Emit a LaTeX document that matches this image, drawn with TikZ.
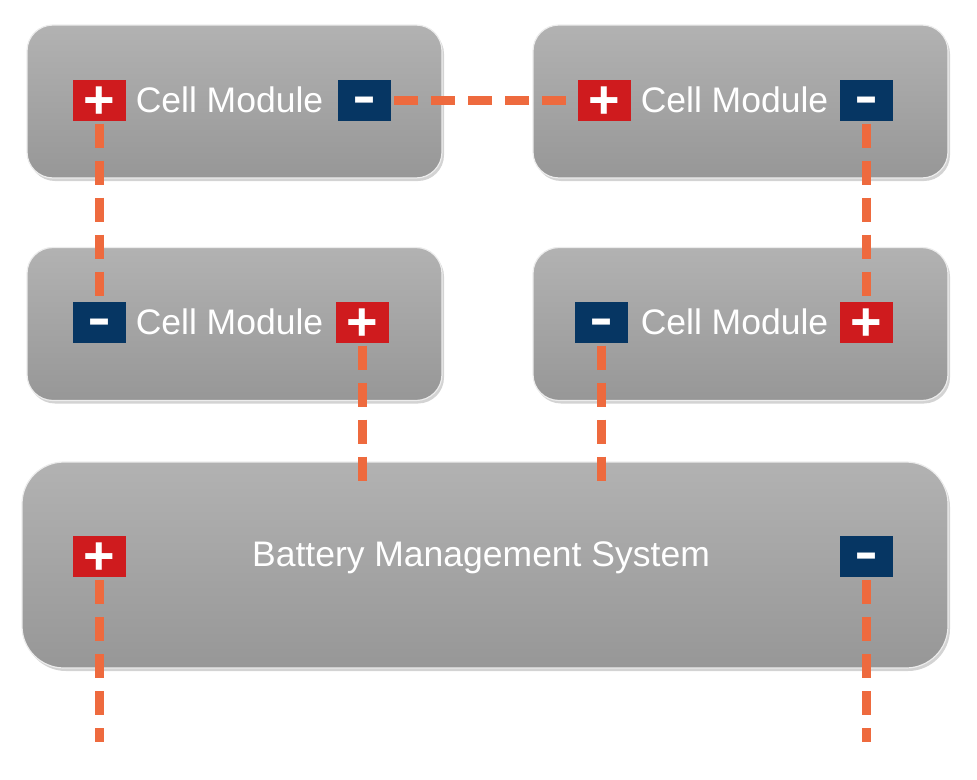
\documentclass[tikz,border=0pt]{standalone}
\usepackage{fontspec}
\setmainfont{Liberation Sans}
\usetikzlibrary{shadows}
\definecolor{termred}{HTML}{CF1B1E}
\definecolor{termblue}{HTML}{063663}
\definecolor{wire}{HTML}{EE6A3E}
\definecolor{boxtop}{HTML}{B2B2B2}
\definecolor{boxbot}{HTML}{979797}
\newcommand{\plussign}{\raisebox{-18.4pt}{\fontsize{54}{54}\bfseries\selectfont +}}
\newcommand{\minussign}{\raisebox{-16pt}{\scalebox{1}[1.7]{\fontsize{36}{36}\bfseries\selectfont –}}}
\begin{document}
\begin{tikzpicture}[x=1pt,y=-1pt,
  module/.style={draw=white!85!gray, line width=1.2pt, rounded corners=26pt, top color=boxtop, bottom color=boxbot,
     minimum width=415pt, minimum height=153pt, inner sep=0pt,
     drop shadow={opacity=0.35, shadow xshift=2pt, shadow yshift=-3pt}},
  modtext/.style={text=white, font=\fontsize{35.5}{40}\selectfont, inner sep=0pt},
  posterm/.style={fill=termred, text=white, minimum width=53pt, minimum height=41pt, inner sep=0pt, text height=0pt, text depth=0pt},
  negterm/.style={fill=termblue, text=white, minimum width=53pt, minimum height=41pt, inner sep=0pt, text height=0pt, text depth=0pt},
  wireline/.style={draw=wire, line width=9pt, dash pattern=on 24pt off 13pt}]
\useasboundingbox (0,0) rectangle (977,779);
% boxes
\node[module] (tl) at (234.5,101.5) {};
\node[module] (tr) at (740.5,101.5) {};
\node[module] (ml) at (234.5,324) {};
\node[module] (mr) at (740.5,324) {};
\node[module, minimum width=926pt, minimum height=206pt, rounded corners=42pt] (bms) at (485,565) {};
% labels
\node[modtext] (ltl) at (229.5,100) {Cell Module};
\node[modtext] (ltr) at (734.5,100) {Cell Module};
\node[modtext] (lml) at (229.5,322) {Cell Module};
\node[modtext] (lmr) at (734.5,322) {Cell Module};
\node[modtext] (lbms) at (481,558) {Battery Management System};
% terminals
\node[posterm] (tlp) at (99.5,100) {\plussign};
\node[negterm] (tln) at (364.5,100) {\minussign};
\node[posterm] (trp) at (604.5,100) {\plussign};
\node[negterm] (trn) at (866.5,100) {\minussign};
\node[negterm] (mln) at (99.5,322) {\minussign};
\node[posterm] (mlp) at (362.5,322) {\plussign};
\node[negterm] (mrn) at (601.5,322) {\minussign};
\node[posterm] (mrp) at (866.5,322) {\plussign};
\node[posterm] (bp) at (99.5,556.5) {\plussign};
\node[negterm] (bn) at (866.5,556.5) {\minussign};
% free ends
\coordinate (bin1) at (362.5,487);
\coordinate (bin2) at (601.5,487);
\coordinate (out1) at (99.5,742);
\coordinate (out2) at (866.5,742);
% wires
\draw[wireline] ([xshift=3pt]tln.east) -- (trp.west);
\draw[wireline] ([yshift=-3pt]tlp.south) -- (mln.north);
\draw[wireline] ([yshift=-3pt]trn.south) -- (mrp.north);
\draw[wireline] ([yshift=-3pt]mlp.south) -- (bin1);
\draw[wireline] ([yshift=-3pt]mrn.south) -- (bin2);
\draw[wireline] ([yshift=-3pt]bp.south) -- (out1);
\draw[wireline] ([yshift=-3pt]bn.south) -- (out2);
\end{tikzpicture}
\end{document}
